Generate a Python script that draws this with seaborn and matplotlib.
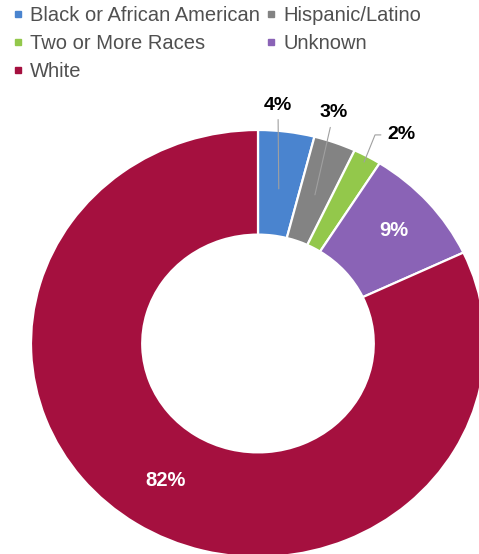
import matplotlib
matplotlib.use("Agg")
import matplotlib.pyplot as plt
from matplotlib.lines import Line2D
import numpy as np
import seaborn as sns

categories = ["Black or African American", "Hispanic/Latino", "Two or More Races", "Unknown", "White"]
values = [4, 3, 2, 9, 82]
pct_labels = ["4%", "3%", "2%", "9%", "82%"]
colors = ["#4a84cf", "#838383", "#93c84b", "#8a63b6", "#a5103f"]

sns.set_theme(style="white")
plt.rcParams["font.family"] = ["Liberation Sans", "DejaVu Sans"]

W, H = 479, 554
fig = plt.figure(figsize=(W / 100, H / 100), dpi=100)
fig.patch.set_facecolor("white")

# donut geometry in pixels (horizontally stretched as in reference)
cx, cy, rx, ry = 258, 343.5, 227, 213.5
ax = fig.add_axes([(cx - rx) / W, (H - cy - ry) / H, 2 * rx / W, 2 * ry / H])
wedges, _ = ax.pie(values, colors=colors, startangle=90, counterclock=False,
                   radius=1.0, wedgeprops=dict(width=0.49, edgecolor="white", linewidth=1.6))
ax.set_aspect("auto")
ax.set_xlim(-1, 1)
ax.set_ylim(-1, 1)
ax.axis("off")
for w in wedges:
    w.set_clip_on(False)

def mid_point(w, r):
    th = np.deg2rad((w.theta1 + w.theta2) / 2)
    return r * np.cos(th), r * np.sin(th)

# outside labels with leader lines
outer_text = {0: (0.088, 1.117), 1: (0.333, 1.080), 2: (0.630, 0.977)}
outer_r = {0: 0.73, 1: 0.74, 2: 0.97}
for i, pos in outer_text.items():
    xy = mid_point(wedges[i], outer_r[i])
    if i == 2:
        cs = "angle,angleA=0,angleB=68,rad=0"
    else:
        cs = "arc3,rad=0"
    ax.annotate(pct_labels[i], xy=xy, xytext=pos, ha="center", va="center",
                fontsize=14, fontweight="bold", color="black",
                arrowprops=dict(arrowstyle="-", color="#a0a0a0", lw=0.8,
                                shrinkA=2, shrinkB=0, connectionstyle=cs),
                annotation_clip=False)

# inside labels
inner_r = {3: 0.80, 4: 0.76}
for i, r in inner_r.items():
    x, y = mid_point(wedges[i], r)
    ax.text(x, y, pct_labels[i], ha="center", va="center", fontsize=14.5,
            fontweight="bold", color="white")

# legend: row-wise order
order = [0, 2, 4, 1, 3]
handles = [Line2D([], [], marker="s", linestyle="none", markersize=5,
                  markerfacecolor=colors[i], markeredgecolor=colors[i]) for i in order]
labels = [categories[i] for i in order]
fig.legend(handles, labels, loc="upper left", bbox_to_anchor=(13 / W, 1 - 6 / H),
           ncol=2, frameon=False, fontsize=14.5, handlelength=0.5, handletextpad=0.35,
           columnspacing=0.3, labelspacing=0.45, borderpad=0, borderaxespad=0,
           labelcolor="#505050")

fig.savefig("out.png", dpi=100, facecolor="white")
